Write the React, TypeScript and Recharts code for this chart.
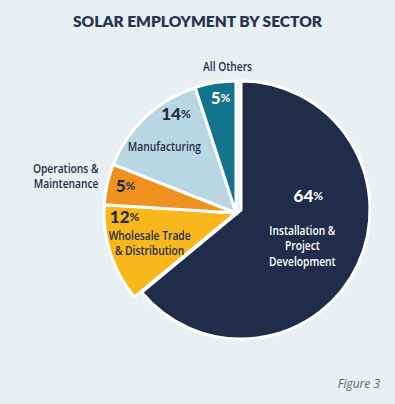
import React from 'react';
import { PieChart, Pie, Cell } from 'recharts';

const sectors = ['Installation & Project Development', 'Wholesale Trade & Distribution', 'Operations & Maintenance', 'Manufacturing', 'All Others'];
const shares = [64, 12, 5, 14, 5];
const insideLines = [['Installation &', 'Project', 'Development'], ['Wholesale Trade', '& Distribution'], [], ['Manufacturing'], []];
const outsideLines = [[], [], ['Operations &', 'Maintenance'], [], ['All Others']];

const colors = ['#1f2d4a', '#f8b81c', '#f0901f', '#b9d7e3', '#13728c'];
const pctColors = ['#ffffff', '#1f2d4a', '#1f2d4a', '#1f2d4a', '#ffffff'];
const textColors = ['#ffffff', '#1f2d4a', '#1f2d4a', '#1f2d4a', '#1f2d4a'];

// where each label sits: k = fraction of radius along mid angle, offsets from there
const labelLayout = [
  { k: 0.5, pct: [9, -42], text: [3, -7.5], out: [0, 0], outAnchor: 'middle' },
  { k: 0.72, pct: [-21, -26], text: [4, -7.5], out: [0, 0], outAnchor: 'middle' },
  { k: 0.85, pct: [-1, -3.5], text: [0, 0], out: [-28, -20.5], outAnchor: 'end' },
  { k: 0.72, pct: [5, -30.5], text: [-6.5, 2.5], out: [0, 0], outAnchor: 'middle' },
  { k: 0.87, pct: [2.5, -2.5], text: [0, 0], out: [9.5, -33.5], outAnchor: 'middle' },
];

const data = sectors.map((name, i) => ({ name, value: shares[i] }));

const labelFont = '"Open Sans", sans-serif';
const numFont = 'Lato, "Open Sans", sans-serif';
const squeeze = 0.82;

const Narrow = ({ x, y, anchor, fill, children }: any) => (
  <text
    transform={`translate(${x},${y}) scale(${squeeze},1)`}
    x={0}
    y={0}
    textAnchor={anchor}
    dominantBaseline="central"
    fontFamily={labelFont}
    fontWeight={600}
    fontSize={12.5}
    fill={fill}
  >
    {children}
  </text>
);

const makeLabel = (mainOnly: boolean) => (props: any) => {
  const { cx, cy, midAngle, outerRadius, index } = props;
  if (mainOnly !== (index === 0)) return null;
  const lay = labelLayout[index];
  const RAD = Math.PI / 180;
  const ax = cx + outerRadius * lay.k * Math.cos(-midAngle * RAD);
  const ay = cy + outerRadius * lay.k * Math.sin(-midAngle * RAD);
  return (
    <g>
      <text
        x={ax + lay.pct[0]}
        y={ay + lay.pct[1]}
        textAnchor="middle"
        dominantBaseline="central"
        fontFamily={numFont}
        fontWeight={900}
        fontSize={17}
        fill={pctColors[index]}
      >
        {shares[index]}
        <tspan fontSize={12} fontWeight={700}>%</tspan>
      </text>
      {insideLines[index].map((line, j) => (
        <Narrow key={j} x={ax + lay.text[0]} y={ay + lay.text[1] + j * 15.5} anchor="middle" fill={textColors[index]}>
          {line}
        </Narrow>
      ))}
      {outsideLines[index].map((line, j) => (
        <Narrow key={'o' + j} x={ax + lay.out[0]} y={ay + lay.out[1] + j * 15.5} anchor={lay.outAnchor} fill="#1f2d4a">
          {line}
        </Narrow>
      ))}
    </g>
  );
};

export default function App() {
  return (
    <div style={{ position: 'absolute', left: 0, top: 0, width: 395, height: 404, background: '#e8f0f4', overflow: 'hidden' }}>
      <div
        style={{
          position: 'absolute',
          top: 12,
          width: 395,
          textAlign: 'center',
          fontFamily: numFont,
          fontWeight: 800,
          fontSize: 15.5,
          color: '#263550',
        }}
      >
        SOLAR EMPLOYMENT BY SECTOR
      </div>
      <div style={{ position: 'absolute', left: 0, top: 0 }}>
        <PieChart width={395} height={404} margin={{ top: 0, right: 0, bottom: 0, left: 0 }}>
          <Pie
            data={data}
            dataKey="value"
            cx={241}
            cy={210}
            outerRadius={129}
            startAngle={90}
            endAngle={-270}
            label={makeLabel(true)}
            labelLine={false}
            isAnimationActive={false}
          >
            {data.map((_, i) => (
              <Cell key={i} fill={i === 0 ? colors[i] : 'transparent'} stroke={i === 0 ? '#ffffff' : 'none'} strokeWidth={3} />
            ))}
          </Pie>
          <Pie
            data={data}
            dataKey="value"
            cx={236}
            cy={213}
            outerRadius={132}
            startAngle={90}
            endAngle={-270}
            label={makeLabel(false)}
            labelLine={false}
            isAnimationActive={false}
          >
            {data.map((_, i) => (
              <Cell key={i} fill={i === 0 ? 'transparent' : colors[i]} stroke={i === 0 ? 'none' : '#ffffff'} strokeWidth={3} />
            ))}
          </Pie>
        </PieChart>
      </div>
      <div
        style={{
          position: 'absolute',
          right: 15,
          top: 375,
          fontFamily: '"Open Sans", sans-serif',
          fontStyle: 'italic',
          fontSize: 12,
          color: '#5f656c',
        }}
      >
        Figure 3
      </div>
    </div>
  );
}
